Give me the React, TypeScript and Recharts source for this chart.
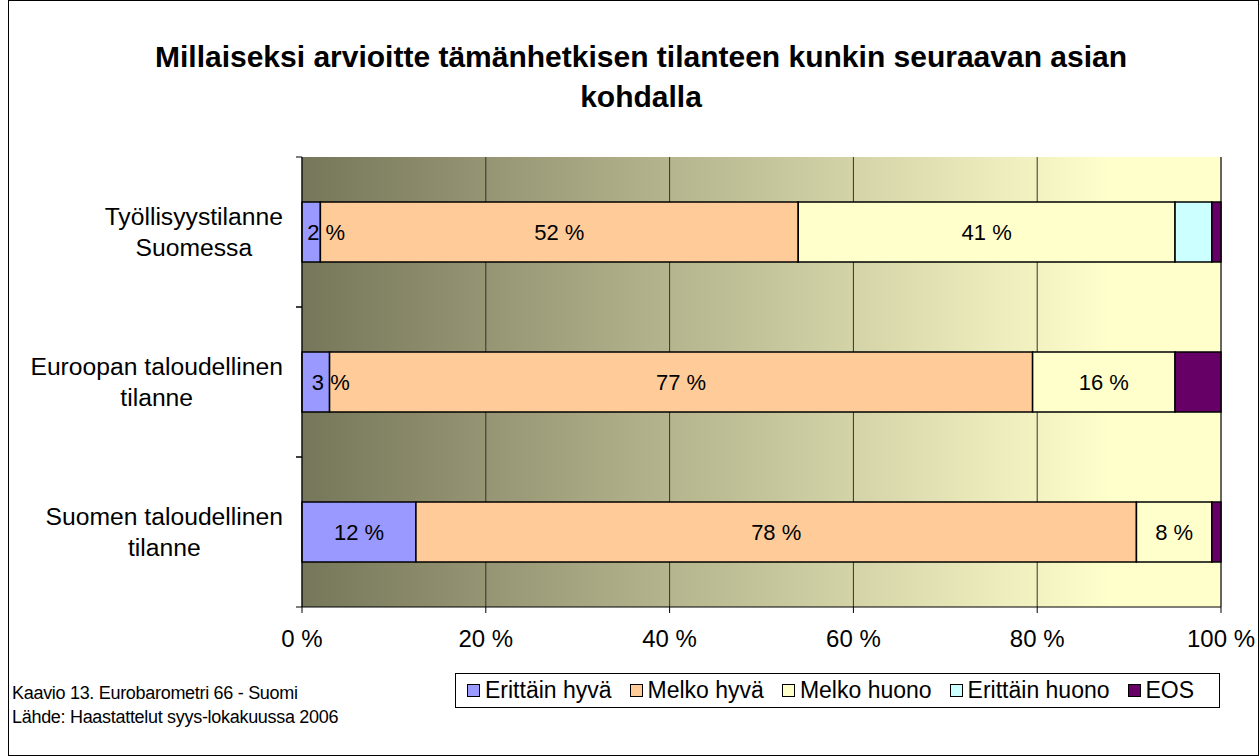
import React from 'react';
import { BarChart, Bar, XAxis, YAxis, CartesianGrid, LabelList } from 'recharts';

const categories = [
  'Työllisyystilanne\nSuomessa',
  'Euroopan taloudellinen\ntilanne',
  'Suomen taloudellinen\ntilanne',
];
const seriesNames = ['Erittäin hyvä', 'Melko hyvä', 'Melko huono', 'Erittäin huono', 'EOS'];
const seriesColors = ['#9999FF', '#FFCC99', '#FFFFCC', '#CCFFFF', '#660066'];
const erittainHyva = [2, 3, 12.4];
const melkoHyva = [52, 76.5, 78.4];
const melkoHuono = [41, 15.5, 8.2];
const erittainHuono = [4, 0, 0];
const eos = [1, 5, 1];
const xTicks = [0, 20, 40, 60, 80, 100];

const seriesValues = [erittainHyva, melkoHyva, melkoHuono, erittainHuono, eos];
const data = categories.map((name, i) => {
  const row: any = { name };
  seriesNames.forEach((s, j) => {
    row[s] = seriesValues[j][i];
  });
  return row;
});

const FONT = "'Liberation Sans', Arial, sans-serif";

const YTick = ({ x, y, payload }: any) => {
  const lines = String(payload.value).split('\n');
  const axisX = x + 19;
  return (
    <g>
      <foreignObject x={x - 295} y={y - 45} width={295} height={90}>
        <div
          style={{
            height: '100%',
            display: 'flex',
            justifyContent: 'flex-end',
            alignItems: 'center',
          }}
        >
          <div
            style={{
              textAlign: 'center',
              fontFamily: FONT,
              fontSize: 24.7,
              lineHeight: '31px',
              color: '#000',
              whiteSpace: 'nowrap',
            }}
          >
            {lines.map((l) => (
              <div key={l}>{l}</div>
            ))}
          </div>
        </div>
      </foreignObject>
      <line x1={axisX - 6} x2={axisX} y1={y - 75} y2={y - 75} stroke="#000" />
      <line x1={axisX - 6} x2={axisX} y1={y + 75} y2={y + 75} stroke="#000" />
    </g>
  );
};

const SegmentLabel = (props: any) => {
  const { x, y, width, height, value } = props;
  if (!value) return null;
  const text = `${Math.round(value)} %`;
  const narrow = width < 45;
  return (
    <text
      x={narrow ? x + width / 2 - 4 : x + width / 2}
      y={y + height / 2}
      textAnchor={narrow ? 'start' : 'middle'}
      dominantBaseline="central"
      fontFamily={FONT}
      fontSize={22}
      fill="#000"
    >
      {text}
    </text>
  );
};

export default function App() {
  return (
    <div
      style={{
        position: 'absolute',
        left: 0,
        top: 0,
        width: 1260,
        height: 756,
        background: '#fff',
        fontFamily: FONT,
      }}
    >
      <div
        style={{
          position: 'absolute',
          left: 8,
          top: 0,
          width: 1249,
          height: 754,
          border: '1px solid #000',
        }}
      />
      <div
        style={{
          position: 'absolute',
          left: 0,
          top: 37,
          width: 1282,
          textAlign: 'center',
          fontSize: 30,
          fontWeight: 'bold',
          lineHeight: '40px',
          color: '#000',
        }}
      >
        Millaiseksi arvioitte tämänhetkisen tilanteen kunkin seuraavan asian
        <br />
        kohdalla
      </div>

      <div style={{ position: 'absolute', left: 0, top: 0 }}>
        <BarChart
          width={1260}
          height={756}
          data={data}
          layout="vertical"
          margin={{ top: 157, right: 39, bottom: 89, left: 12 }}
        >
          <defs>
            <linearGradient id="plotBg" x1="0" y1="0" x2="1" y2="0">
              <stop offset="0%" stopColor="#76765a" />
              <stop offset="88%" stopColor="#ffffcc" />
              <stop offset="100%" stopColor="#ffffcc" />
            </linearGradient>
          </defs>
          <CartesianGrid horizontal={false} stroke="#333" fill="url(#plotBg)" fillOpacity={1} />
          <XAxis
            type="number"
            domain={[0, 100]}
            ticks={xTicks}
            tickFormatter={(v) => `${v} %`}
            tick={{ fontSize: 24, fill: '#000', fontFamily: FONT }}
            tickSize={6}
            tickMargin={17}
            axisLine={{ stroke: '#000' }}
            tickLine={{ stroke: '#000' }}
            height={60}
            interval={0}
          />
          <YAxis
            type="category"
            dataKey="name"
            width={290}
            tick={<YTick />}
            tickSize={0}
            tickMargin={19}
            tickLine={false}
            axisLine={{ stroke: '#000' }}
            interval={0}
          />
          {seriesNames.map((s, j) => (
            <Bar
              key={s}
              dataKey={s}
              stackId="a"
              fill={seriesColors[j]}
              stroke="#000"
              strokeWidth={1.5}
              barSize={60}
              isAnimationActive={false}
            >
              {j < 3 && <LabelList dataKey={s} content={<SegmentLabel />} />}
            </Bar>
          ))}
        </BarChart>
      </div>

      <div
        style={{
          position: 'absolute',
          left: 455,
          top: 673,
          width: 765,
          height: 35,
          border: '1px solid #000',
          display: 'flex',
          alignItems: 'center',
          paddingLeft: 11,
          boxSizing: 'border-box',
          fontSize: 23,
          color: '#000',
          whiteSpace: 'nowrap',
        }}
      >
        {seriesNames.map((s, j) => (
          <div key={s} style={{ display: 'flex', alignItems: 'center', marginRight: 18 }}>
            <span
              style={{
                width: 11,
                height: 11,
                background: seriesColors[j],
                border: '1px solid #000',
                marginRight: 5,
                display: 'inline-block',
              }}
            />
            <span>{s}</span>
          </div>
        ))}
      </div>

      <div
        style={{
          position: 'absolute',
          left: 12,
          top: 681,
          fontFamily: "'Liberation Sans Narrow', 'Arial Narrow', " + FONT,
          fontSize: 18,
          lineHeight: '24px',
          color: '#000',
          letterSpacing: '-0.3px',
        }}
      >
        Kaavio 13. Eurobarometri 66 - Suomi
        <br />
        Lähde: Haastattelut syys-lokakuussa 2006
      </div>
    </div>
  );
}
